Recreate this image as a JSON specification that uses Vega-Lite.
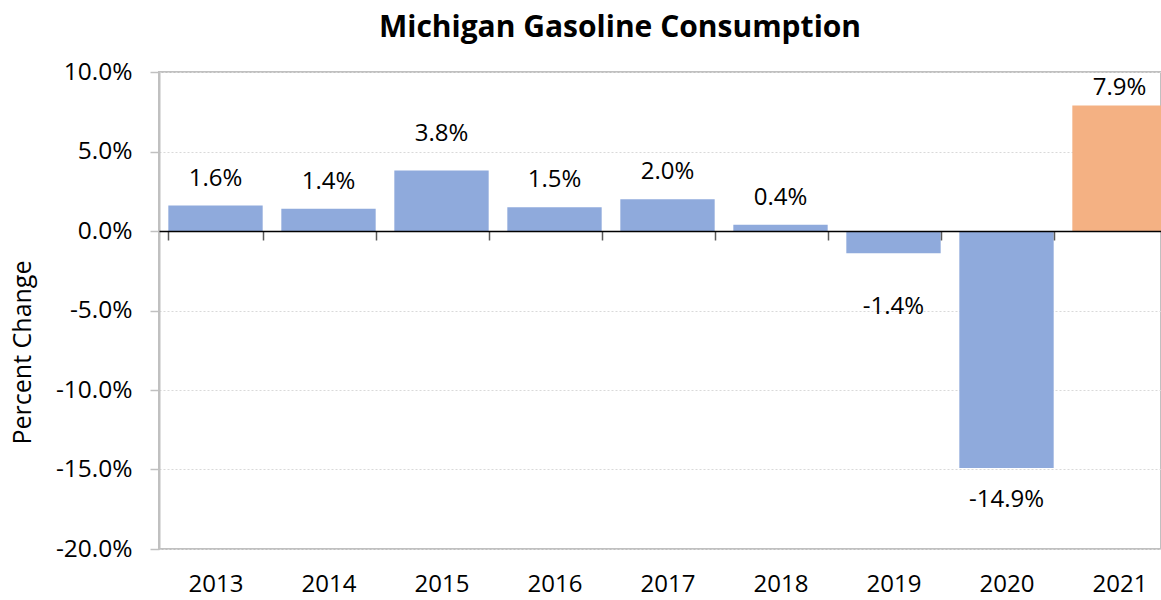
{
  "$schema": "https://vega.github.io/schema/vega-lite/v6.json",
  "autosize": {"type": "none"},
  "padding": {"left": 159, "top": 72, "right": 0, "bottom": 51},
  "width": 1002,
  "height": 477,
  "config": {
    "locale": {"number": {"decimal": ".", "thousands": ",", "grouping": [3], "currency": ["$", ""], "minus": "-"}},
    "view": {"stroke": "#c0c0c0", "strokeWidth": 2},
    "font": "Open Sans"
  },
  "title": {
    "text": "Michigan Gasoline Consumption",
    "font": "Open Sans",
    "fontSize": 30,
    "fontWeight": "bold",
    "color": "#000000",
    "anchor": "middle",
    "frame": "group",
    "dx": -40,
    "offset": 16
  },
  "data": {
    "values": [
      {"year": "2013", "change": 0.016},
      {"year": "2014", "change": 0.014},
      {"year": "2015", "change": 0.038},
      {"year": "2016", "change": 0.015},
      {"year": "2017", "change": 0.020},
      {"year": "2018", "change": 0.004},
      {"year": "2019", "change": -0.014},
      {"year": "2020", "change": -0.149},
      {"year": "2021", "change": 0.079}
    ]
  },
  "encoding": {
    "x": {
      "field": "year",
      "type": "nominal",
      "sort": null,
      "scale": {"paddingInner": 0.165, "paddingOuter": 0.0825, "range": [0, 1017]},
      "axis": {
        "title": null,
        "orient": "bottom",
        "offset": -318,
        "zindex": 1,
        "domainColor": "#000000",
        "domainWidth": 1.5,
        "tickBand": "extent",
        "tickColor": "#595959",
        "tickWidth": 1.5,
        "tickSize": 9,
        "labelPadding": 344,
        "labelBaseline": "middle",
        "labelAngle": 0,
        "labelFont": "Open Sans",
        "labelFontSize": 24,
        "labelColor": "#000000"
      }
    },
    "y": {
      "field": "change",
      "type": "quantitative",
      "scale": {"domain": [-0.2, 0.1], "nice": false, "zero": true},
      "axis": {
        "title": "Percent Change",
        "titleFont": "Open Sans",
        "titleFontSize": 25,
        "titleFontWeight": "normal",
        "titleColor": "#000000",
        "titleX": -137,
        "titleY": 280,
        "titleBaseline": "middle",
        "values": [-0.2, -0.15, -0.1, -0.05, 0, 0.05, 0.1],
        "format": ".1%",
        "labelFont": "Open Sans",
        "labelFontSize": 24.5,
        "labelColor": "#000000",
        "labelPadding": 18,
        "domainColor": "#c0c0c0",
        "domainWidth": 2,
        "tickColor": "#c0c0c0",
        "tickWidth": 1.5,
        "tickSize": 9,
        "grid": true,
        "gridColor": "#d9d9d9",
        "gridDash": [2, 2],
        "gridWidth": 1
      }
    }
  },
  "layer": [
    {
      "mark": {"type": "bar"},
      "encoding": {
        "color": {
          "condition": {"test": "datum.year === '2021'", "value": "#F4B183"},
          "value": "#8FAADC"
        }
      }
    },
    {
      "transform": [{"filter": "indexof(['2013','2014','2016','2017','2018'], datum.year) >= 0"}],
      "mark": {"type": "text", "font": "Open Sans", "fontSize": 24, "color": "#000000", "baseline": "middle", "dy": -27},
      "encoding": {"text": {"field": "change", "type": "quantitative", "format": ".1%"}}
    },
    {
      "transform": [{"filter": "datum.year === '2015'"}],
      "mark": {"type": "text", "font": "Open Sans", "fontSize": 24, "color": "#000000", "baseline": "middle", "dy": -37},
      "encoding": {"text": {"field": "change", "type": "quantitative", "format": ".1%"}}
    },
    {
      "transform": [{"filter": "datum.year === '2021'"}],
      "mark": {"type": "text", "font": "Open Sans", "fontSize": 24, "color": "#000000", "baseline": "middle", "dy": -17},
      "encoding": {"text": {"field": "change", "type": "quantitative", "format": ".1%"}}
    },
    {
      "transform": [{"filter": "datum.year === '2019'"}],
      "mark": {"type": "text", "font": "Open Sans", "fontSize": 24, "color": "#000000", "baseline": "middle", "dy": 54},
      "encoding": {"text": {"field": "change", "type": "quantitative", "format": ".1%"}}
    },
    {
      "transform": [{"filter": "datum.year === '2020'"}],
      "mark": {"type": "text", "font": "Open Sans", "fontSize": 24, "color": "#000000", "baseline": "middle", "dy": 32},
      "encoding": {"text": {"field": "change", "type": "quantitative", "format": ".1%"}}
    }
  ]
}
